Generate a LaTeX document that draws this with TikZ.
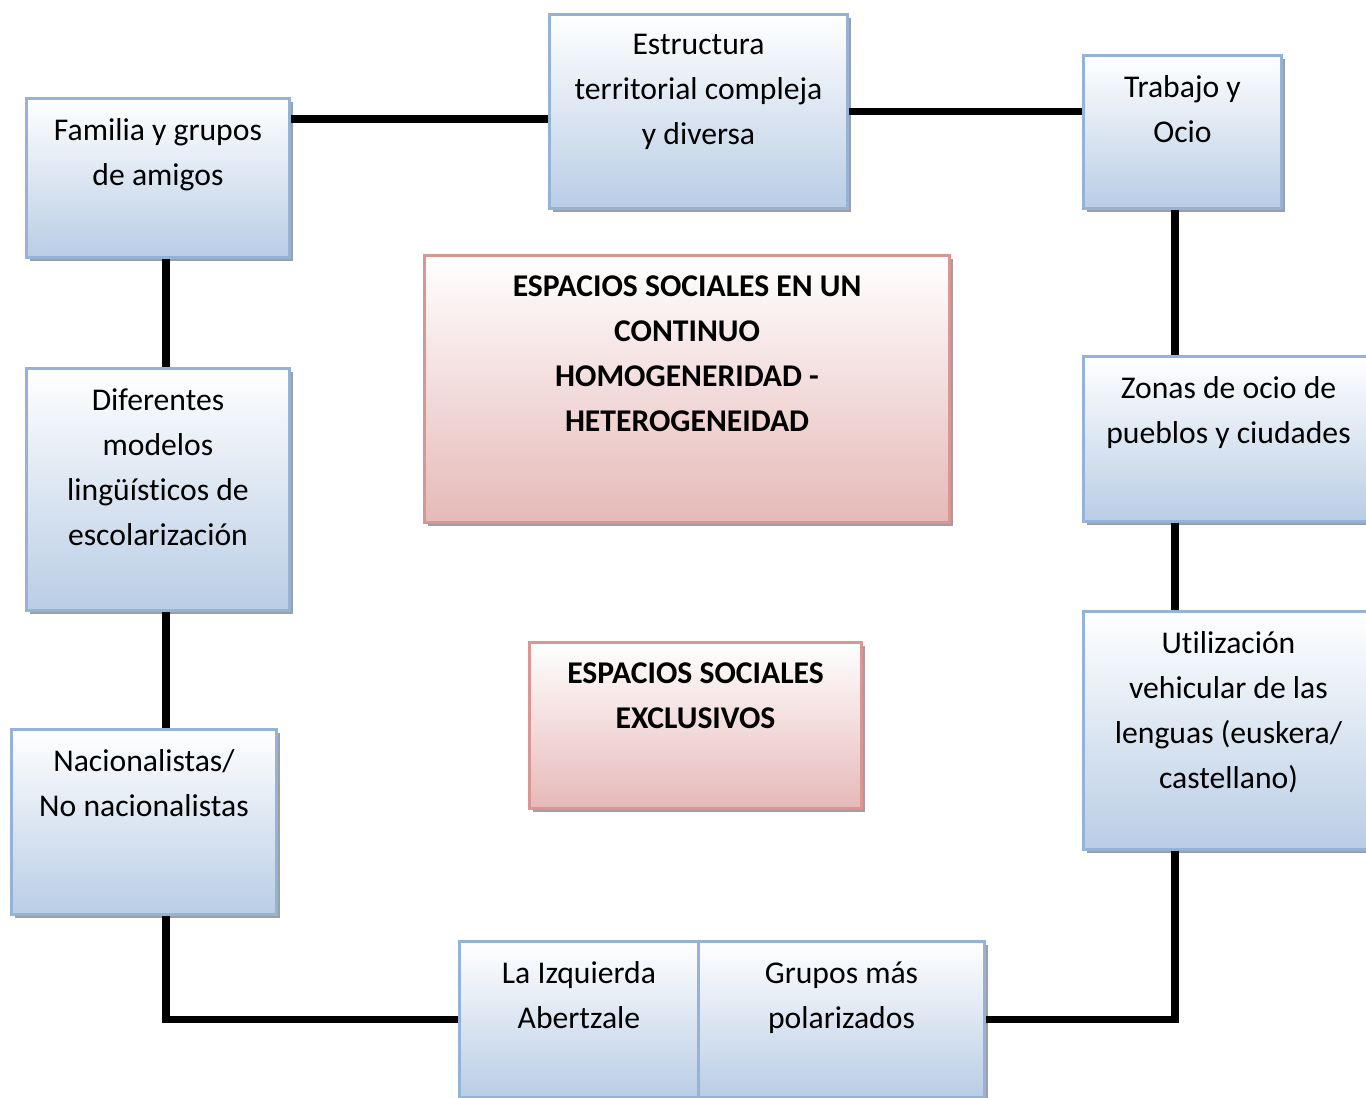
\documentclass[tikz,border=0pt]{standalone}
\usepackage{fontspec}
\setmainfont{Carlito}[Ligatures=NoCommon]
\usepackage{tikz}
\usetikzlibrary{calc}
\usetikzlibrary{shadows}

\definecolor{boxblue}{RGB}{185,205,229}
\definecolor{edgeblue}{RGB}{149,179,215}
\definecolor{boxrose}{RGB}{230,185,184}
\definecolor{edgerose}{RGB}{217,150,148}

\begin{document}
\begin{tikzpicture}[x=0.01cm, y=-0.01cm,
		card/.style={draw=edgeblue, line width=0.8pt, top color=white, bottom color=boxblue,
			anchor=north west, inner sep=0pt,
			drop shadow={shadow xshift=0.9pt, shadow yshift=-0.9pt, fill=gray!75, opacity=1}},
		rosecard/.style={card, draw=edgerose, bottom color=boxrose},
		cardtext/.style={anchor=north, align=center, inner sep=0pt, yshift=-5.9pt,
			font=\fontsize{9}{12.8}\selectfont},
		link/.style={line width=2pt}]
				\clip (0,0) rectangle (1366,1098);
				\fill[white] (0,0) rectangle (1366,1098);

				\node[card, minimum width=2.63cm, minimum height=1.59cm,
					label={[cardtext]north:{Familia y grupos\\de amigos}}] (fam) at (25,97) {};
				\node[card, minimum width=2.98cm, minimum height=1.94cm,
					label={[cardtext]north:{Estructura\\territorial compleja\\y diversa}}] (est) at (548,13) {};
				\node[card, minimum width=1.98cm, minimum height=1.53cm,
					label={[cardtext]north:{Trabajo y\\Ocio}}] (trab) at (1082,54) {};
				\node[card, minimum width=2.63cm, minimum height=2.42cm,
					label={[cardtext]north:{Diferentes\\modelos\\lingüísticos de\\escolarización}}] (dif) at (25,367) {};
				\node[card, minimum width=2.65cm, minimum height=1.85cm,
					label={[cardtext]north:{Nacionalistas/\\No nacionalistas}}] (nac) at (10,728) {};
				\node[card, minimum width=2.39cm, minimum height=1.56cm,
					label={[cardtext]north:{La Izquierda\\Abertzale}}] (izq) at (458,940) {};
				\node[card, minimum width=2.86cm, minimum height=1.56cm,
					label={[cardtext]north:{Grupos más\\polarizados}}] (gru) at (697,940) {};
				\node[card, minimum width=2.90cm, minimum height=1.65cm,
					label={[cardtext]north:{Zonas de ocio de\\pueblos y ciudades}}] (zon) at (1082,355) {};
				\node[card, minimum width=2.90cm, minimum height=2.38cm,
					label={[cardtext]north:{Utilización\\vehicular de las\\lenguas (euskera/\\castellano)}}] (uti) at (1082,610) {};

				\node[rosecard, minimum width=5.25cm, minimum height=2.67cm,
					label={[cardtext, font=\fontsize{9}{12.8}\selectfont\bfseries]north:{ESPACIOS SOCIALES EN UN\\CONTINUO\\HOMOGENERIDAD -\\HETEROGENEIDAD}}] (cont) at (423,254) {};
				\node[rosecard, minimum width=3.32cm, minimum height=1.66cm,
					label={[cardtext, font=\fontsize{9}{12.8}\selectfont\bfseries]north:{ESPACIOS SOCIALES\\EXCLUSIVOS}}] (excl) at (528,641) {};

				\coordinate (lrail) at (166,0);
				\coordinate (rrail) at (1175,0);
				\coordinate (famtie) at (0,119);

				\draw[link] (fam.east |- famtie) -- (est.west |- famtie);
				\draw[link] (est.east) -- (est.east -| trab.west);
				\draw[link] (trab.south -| rrail) -- (zon.north -| rrail);
				\draw[link] (zon.south -| rrail) -- (uti.north -| rrail);
				\draw[link] (uti.south -| rrail) |- (gru.east);
				\draw[link] (fam.south -| lrail) -- (dif.north -| lrail);
				\draw[link] (dif.south -| lrail) -- (nac.north -| lrail);
				\draw[link] (nac.south -| lrail) |- (izq.west);

			\end{tikzpicture}
\end{document}
